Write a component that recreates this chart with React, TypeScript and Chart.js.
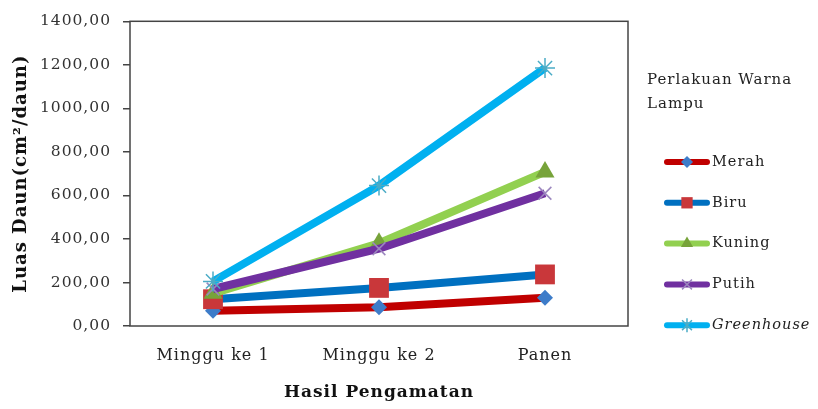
import React, { useEffect, useRef } from "react";
import { Chart, registerables } from "chart.js";

Chart.register(...registerables);

const categories = ["Minggu ke 1", "Minggu ke 2", "Panen"];
const seriesNames = ["Merah", "Biru", "Kuning", "Putih", "Greenhouse"];
const merah = [70, 86, 130];
const biru = [123, 175, 237];
const kuning = [150, 380, 708];
const putih = [170, 355, 610];
const greenhouse = [205, 645, 1185];
const yTicks = [0, 200, 400, 600, 800, 1000, 1200, 1400];

const lineColors = ["#C00000", "#0070C0", "#92D050", "#7030A0", "#00B0F0"];
const markerColors = ["#3D7CC9", "#C9373A", "#77A33A", "#9B86BE", "#4BACC6"];
const markerStyles = ["rectRot", "rect", "triangle", "crossRot", "star"];
const markerRadius = [8, 14, 11, 9, 10];
const legendMarkerRadius = [6, 8, 7, 7, 7];

const FONT = "'DejaVu Serif', 'Liberation Serif', serif";

function drawMarker(ctx: CanvasRenderingContext2D, style: string, x: number, y: number, r: number, color: string) {
  ctx.save();
  ctx.fillStyle = color;
  ctx.strokeStyle = color;
  ctx.lineWidth = 1.5;
  ctx.beginPath();
  if (style === "rectRot") {
    ctx.moveTo(x - r, y); ctx.lineTo(x, y - r); ctx.lineTo(x + r, y); ctx.lineTo(x, y + r); ctx.closePath(); ctx.fill();
  } else if (style === "rect") {
    const s = r * Math.SQRT1_2;
    ctx.rect(x - s, y - s, 2 * s, 2 * s); ctx.fill();
  } else if (style === "triangle") {
    ctx.moveTo(x - r * 0.866, y + r * 0.5); ctx.lineTo(x + r * 0.866, y + r * 0.5); ctx.lineTo(x, y - r); ctx.closePath(); ctx.fill();
  } else if (style === "crossRot") {
    const s = r * Math.SQRT1_2;
    ctx.moveTo(x - s, y - s); ctx.lineTo(x + s, y + s); ctx.moveTo(x - s, y + s); ctx.lineTo(x + s, y - s); ctx.stroke();
  } else {
    const s = r * Math.SQRT1_2;
    ctx.moveTo(x - s, y - s); ctx.lineTo(x + s, y + s); ctx.moveTo(x - s, y + s); ctx.lineTo(x + s, y - s);
    ctx.moveTo(x, y - r); ctx.lineTo(x, y + r); ctx.stroke();
  }
  ctx.restore();
}

export default function App() {
  const ref = useRef<HTMLCanvasElement | null>(null);
  useEffect(() => {
    if (!ref.current) return;
    const values = [merah, biru, kuning, putih, greenhouse];
    const spacingPlugin = {
      id: "spacing",
      beforeUpdate(chart: any) { (chart.ctx as any).letterSpacing = "1px"; },
      beforeDraw(chart: any) { (chart.ctx as any).letterSpacing = "1px"; },
    };
    const framePlugin = {
      id: "frame",
      afterDraw(chart: any) {
        const { ctx, chartArea: a } = chart;
        ctx.save();
        ctx.strokeStyle = "#444";
        ctx.lineWidth = 1.5;
        ctx.strokeRect(a.left, a.top, a.right - a.left, a.bottom - a.top);
        ctx.restore();
      },
    };
    const legendPlugin = {
      id: "customLegend",
      afterDraw(chart: any) {
        const ctx = chart.ctx as CanvasRenderingContext2D;
        ctx.save();
        (ctx as any).letterSpacing = "1px";
        ctx.fillStyle = "#222";
        ctx.textBaseline = "middle";
        ctx.textAlign = "left";
        ctx.font = `15px ${FONT}`;
        ctx.fillText("Perlakuan Warna", 647, 80);
        ctx.fillText("Lampu", 647, 104);
        chart.data.datasets.forEach((ds: any, i: number) => {
          const y = 162 + i * 40.8;
          ctx.save();
          ctx.strokeStyle = ds.borderColor;
          ctx.lineWidth = 6;
          ctx.lineCap = "round";
          ctx.beginPath();
          ctx.moveTo(667, y);
          ctx.lineTo(707, y);
          ctx.stroke();
          ctx.restore();
          drawMarker(ctx, markerStyles[i], 687, y, legendMarkerRadius[i], markerColors[i]);
          ctx.fillStyle = "#222";
          ctx.font = (i === 4 ? "italic " : "") + `14.5px ${FONT}`;
          ctx.fillText(ds.label, 712, y);
        });
        ctx.restore();
      },
    };
    const chart = new Chart(ref.current, {
      type: "line",
      data: {
        labels: categories,
        datasets: seriesNames.map((name, i) => ({
          label: name,
          data: values[i],
          borderColor: lineColors[i],
          backgroundColor: markerColors[i],
          borderWidth: 8,
          pointStyle: markerStyles[i] as any,
          pointRadius: markerRadius[i],
          pointBackgroundColor: markerColors[i],
          pointBorderColor: markerColors[i],
          pointBorderWidth: i >= 3 ? 1.5 : 0,
          tension: 0,
          order: 4 - i,
          clip: false as any,
        })),
      },
      options: {
        animation: false,
        responsive: false,
        maintainAspectRatio: false,
        layout: { padding: { left: 0, right: 190, top: 18, bottom: 0 } },
        plugins: { legend: { display: false }, tooltip: { enabled: false } },
        scales: {
          x: {
            type: "category",
            offset: true,
            grid: { display: false, drawTicks: false },
            border: { display: false },
            ticks: { color: "#222", font: { family: FONT, size: 16 }, padding: 20, maxRotation: 0 },
            title: {
              display: true,
              text: "Hasil Pengamatan",
              color: "#111",
              font: { family: FONT, size: 17, weight: "bold" },
              padding: { top: 0, bottom: 6 },
            },
            afterFit(scale: any) { scale.height = 83; },
          },
          y: {
            min: 0,
            max: 1400,
            afterBuildTicks(scale: any) { scale.ticks = yTicks.map((v) => ({ value: v })); },
            grid: { drawOnChartArea: false, drawTicks: true, tickLength: 7, color: "#444", lineWidth: 1.5 },
            border: { display: false },
            ticks: {
              color: "#333",
              font: { family: FONT, size: 15.5 },
              padding: 12,
              callback: (v: any) => Number(v).toFixed(2).replace(".", ","),
            },
            title: {
              display: true,
              text: "Luas Daun(cm²/daun)",
              color: "#111",
              font: { family: FONT, size: 18, weight: "bold" },
              padding: { top: 11, bottom: 0 },
            },
            afterFit(scale: any) { scale.width = 130; },
          },
        },
      },
      plugins: [spacingPlugin, framePlugin, legendPlugin],
    });
    return () => chart.destroy();
  }, []);
  return (
    <div style={{ position: "fixed", left: 0, top: 0, width: 818, height: 409, background: "#fff" }}>
      <canvas ref={ref} width={818} height={409} style={{ width: 818, height: 409, display: "block" }} />
    </div>
  );
}
